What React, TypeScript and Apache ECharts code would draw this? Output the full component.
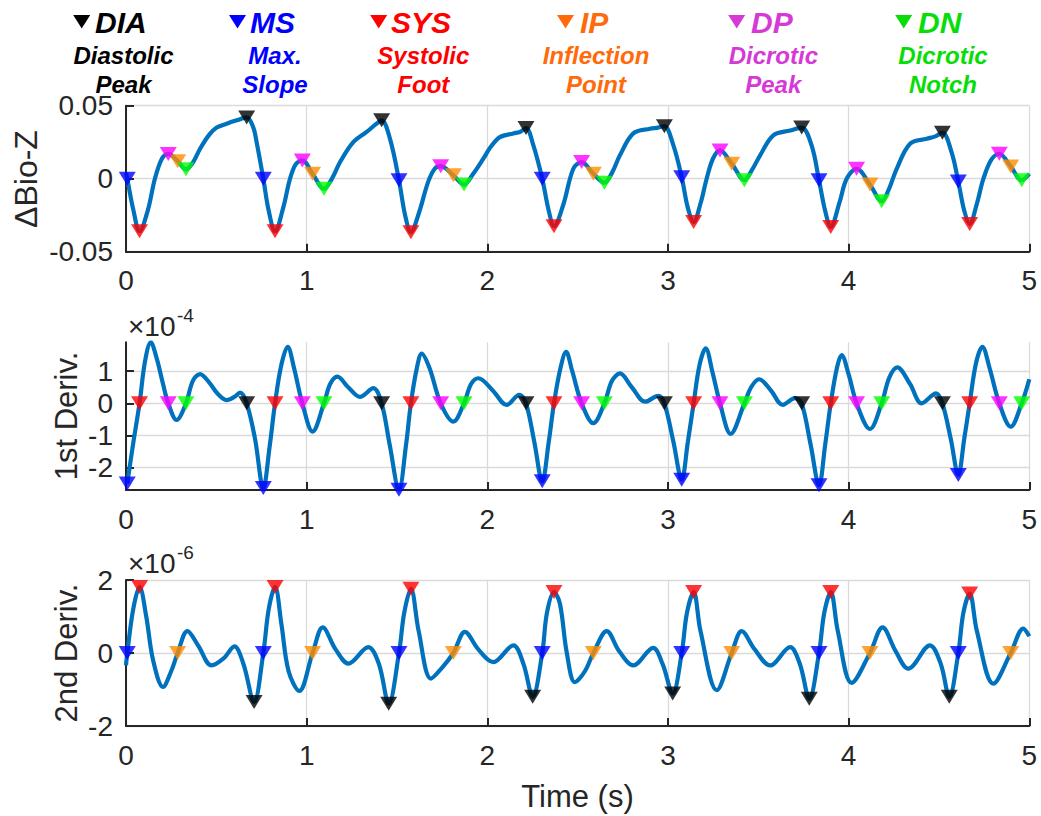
import { useEffect, useRef } from 'react';
import * as echarts from 'echarts';

const FONT = '"Liberation Sans", Arial, Helvetica, sans-serif';
const AX = '#262626';

// ---- event times (s) ----
const msT = [0.007, 0.76, 1.511, 2.304, 3.076, 3.836, 4.607];
const sysT = [0.075, 0.825, 1.577, 2.369, 3.142, 3.901, 4.67];
const ipT = [0.286, 1.033, 1.812, 2.587, 3.353, 4.118, 4.897];
const dpT = [0.234, 0.976, 1.742, 2.522, 3.288, 4.044, 4.834];
const dnT = [0.332, 1.096, 1.871, 2.648, 3.423, 4.183, 4.958];
const diaT = [0.668, 1.415, 2.214, 2.98, 3.74, 4.519];
const d2MinT = [0.709, 1.454, 2.251, 3.026, 3.782, 4.557];

// ---- ΔBio-Z marker values ----
const zMS = [0, 0, -0.001, 0, 0.001, -0.001, -0.002];
const zSYS = [-0.036, -0.036, -0.0366, -0.0325, -0.0297, -0.033, -0.031];
const zIP = [0.012, 0.0034, 0.0023, 0.0034, 0.0103, -0.004, 0.0084];
const zDP = [0.017, 0.0125, 0.0086, 0.0114, 0.0194, 0.0068, 0.0171];
const zDN = [0.0064, -0.0069, -0.004, -0.0027, -0.001, -0.0155, -0.001];
const zDIA = [0.042, 0.04, 0.0347, 0.036, 0.035, 0.0315];
// other points of the ΔBio-Z trace
const zCurve = [
  [0, 0.004], [0.04, -0.021], [0.12, -0.022], [0.16, 0.0], [0.2, 0.014], [0.37, 0.011], [0.41, 0.0205],
  [0.46, 0.03], [0.502, 0.035], [0.557, 0.0377], [0.613, 0.04], [0.705, 0.035], [0.723, 0.025],
  [0.79, -0.022], [0.87, -0.02], [0.908, 0], [0.94, 0.01], [1.14, 0.0], [1.185, 0.0114], [1.258, 0.025],
  [1.332, 0.032], [1.38, 0.037], [1.461, 0.0274], [1.545, -0.025], [1.62, -0.024], [1.673, -0.002],
  [1.71, 0.007], [1.92, 0.003], [1.978, 0.0137], [2.02, 0.022], [2.07, 0.0285], [2.144, 0.031],
  [2.18, 0.032], [2.255, 0.0228], [2.34, -0.022], [2.42, -0.018], [2.476, 0.0068], [2.69, 0.004],
  [2.734, 0.016], [2.808, 0.031], [2.9, 0.0342], [2.945, 0.035], [3.03, 0.0228], [3.11, -0.02],
  [3.18, -0.017], [3.214, 0], [3.25, 0.014], [3.465, 0.006], [3.51, 0.016], [3.583, 0.0297],
  [3.676, 0.033], [3.795, 0.0228], [3.87, -0.022], [3.95, -0.016], [3.989, 0], [4.22, -0.008],
  [4.266, 0.0068], [4.34, 0.024], [4.432, 0.0274], [4.48, 0.029], [4.57, 0.018], [4.64, -0.022],
  [4.71, -0.017], [4.746, 0], [4.79, 0.013], [5, 0.0034],
];

// ---- 1st derivative (×1e-4) ----
const d1MS = [-2.5, -2.64, -2.69, -2.43, -2.38, -2.55, -2.23];
const d1SYS = [0, 0, 0, 0, 0, 0, 0];
const d1DP = [0, 0, 0, 0, 0, 0, 0];
const d1DN = [0, 0, 0, 0, 0, 0, 0];
const d1DIA = [0, 0, 0, 0, 0, 0];
const d1Curve = [
  [0.04, -1.24], [0.105, 1.3], [0.137, 1.9], [0.17, 1.4], [0.205, 0.6], [0.28, -0.52], [0.37, 0.7],
  [0.41, 0.91], [0.46, 0.65], [0.51, 0.28], [0.557, 0.1], [0.6, 0.2], [0.631, 0.33], [0.714, -1.1],
  [0.795, -1.35], [0.86, 1.2], [0.895, 1.76], [0.93, 1.1], [1.033, -0.88], [1.13, 0.6], [1.17, 0.83],
  [1.23, 0.5], [1.295, 0.2], [1.369, 0.47], [1.46, -1.3], [1.55, -1.3], [1.61, 1.1], [1.637, 1.55],
  [1.68, 1.1], [1.812, -0.57], [1.91, 0.6], [1.95, 0.78], [2.03, 0.4], [2.107, -0.05], [2.177, 0.26],
  [2.26, -1.2], [2.34, -1.2], [2.405, 1.1], [2.436, 1.6], [2.47, 1.0], [2.587, -0.62], [2.69, 0.7],
  [2.734, 0.93], [2.8, 0.5], [2.873, 0.05], [2.946, 0.23], [3.03, -1.2], [3.11, -1.2], [3.175, 1.2],
  [3.209, 1.71], [3.245, 1.0], [3.347, -0.95], [3.46, 0.5], [3.504, 0.75], [3.57, 0.4], [3.635, -0.05],
  [3.703, 0.16], [3.79, -1.3], [3.87, -1.3], [3.935, 1.1], [3.961, 1.5], [4.0, 0.9], [4.118, -0.8],
  [4.225, 0.8], [4.269, 1.12], [4.34, 0.6], [4.404, 0.0], [4.484, 0.31], [4.565, -1.1], [4.64, -1.1],
  [4.705, 1.25], [4.74, 1.76], [4.78, 1.1], [4.897, -0.73], [5, 0.75],
];

// ---- 2nd derivative (×1e-6) ----
const d2MS = [0, 0, 0, 0, 0, 0, 0];
const d2SYS = [1.81, 1.81, 1.76, 1.67, 1.67, 1.67, 1.63];
const d2IP = [0, 0, 0, 0, 0, 0, 0];
const d2Min = [-1.34, -1.39, -1.2, -1.11, -1.25, -1.2];
const d2Curve = [
  [0, -0.34], [0.04, 1.2], [0.112, 1.0], [0.15, -0.2], [0.205, -0.93], [0.25, -0.5], [0.34, 0.6],
  [0.4, 0.2], [0.474, -0.34], [0.54, -0.15], [0.6, 0.18], [0.65, -0.3], [0.79, 1.2], [0.86, 0.8],
  [0.9, -0.5], [0.959, -1.04], [1.089, 0.7], [1.16, 0.1], [1.231, -0.29], [1.341, 0.16], [1.4, -0.3],
  [1.54, 1.1], [1.62, 0.6], [1.688, -0.7], [1.75, -0.4], [1.876, 0.58], [1.95, 0.1], [2.033, -0.25],
  [2.144, 0.21], [2.2, -0.3], [2.33, 1.1], [2.402, 1.35], [2.44, 0.0], [2.485, -0.8], [2.54, -0.5],
  [2.661, 0.6], [2.73, 0.05], [2.808, -0.34], [2.918, 0.14], [2.97, -0.3], [3.105, 1.1], [3.18, 0.6],
  [3.27, -1.02], [3.408, 0.6], [3.48, 0.1], [3.565, -0.34], [3.676, 0.16], [3.73, -0.3], [3.865, 1.1],
  [3.94, 0.6], [4.017, -0.82], [4.188, 0.7], [4.26, 0.05], [4.33, -0.43], [4.45, 0.21], [4.51, -0.3],
  [4.635, 1.1], [4.71, 0.6], [4.801, -0.84], [4.967, 0.67], [5, 0.46],
];

const xTicks = [0, 1, 2, 3, 4, 5];
const zTicks = [-0.05, 0, 0.05];
const d1Ticks = [-2, -1, 0, 1];
const d2Ticks = [-2, 0, 2];

const C = {
  DIA: '#000000', MS: '#0000FF', SYS: '#FF0000', IP: '#FF8C00', DP: '#FF00FF', DN: '#00FF00',
};
const LEG = {
  DIA: '#000000', MS: '#0000FF', SYS: '#FF0000', IP: '#FF6A0A', DP: '#D63AD6', DN: '#08DD08',
};

const zip = (t: number[], v: number[]) => t.map((x, i) => [x, v[i]]);
const merge = (...a: number[][][]) => a.flat().slice().sort((p, q) => p[0] - q[0]);

function buildOption() {
  const grids = [
    { left: 126, right: 11.7, top: 105.7, height: 146 },
    { left: 126, right: 11.7, top: 342.3, height: 147.7 },
    { left: 126, right: 11.7, top: 580, height: 146 },
  ];
  const xAxis = grids.map((_, gi) => ({
    type: 'value', gridIndex: gi, min: xTicks[0], max: xTicks[xTicks.length - 1], interval: 1,
    axisLine: { show: true, onZero: false, lineStyle: { color: AX, width: 2 } },
    axisTick: { show: true, inside: true, length: 8, lineStyle: { color: AX, width: 2 } },
    axisLabel: { color: AX, fontSize: 28, fontFamily: FONT, margin: 15 },
    splitLine: { show: true, lineStyle: { color: '#dadada', width: 1.3 } },
  }));
  const yBase = {
    type: 'value',
    axisLine: { show: true, onZero: false, lineStyle: { color: AX, width: 2 } },
    axisLabel: { color: AX, fontSize: 28, fontFamily: FONT, margin: 13 },
    splitLine: { show: true, lineStyle: { color: '#dadada', width: 1.3 } },
  };
  const tick = { show: true, inside: true, length: 8, lineStyle: { color: AX, width: 2 } };
  const yAxis = [
    {
      ...yBase, gridIndex: 0, min: zTicks[0], max: zTicks[2], interval: 0.05, axisTick: tick,
      axisLabel: { ...yBase.axisLabel, formatter: (v: number) => (v === 0 ? '0' : String(v)) },
    },
    {
      ...yBase, gridIndex: 1, min: -2.7, max: 1.9,
      axisTick: { ...tick, customValues: d1Ticks },
      axisLabel: { ...yBase.axisLabel, customValues: d1Ticks },
    },
    { ...yBase, gridIndex: 2, min: d2Ticks[0], max: d2Ticks[2], interval: 2, axisTick: tick },
  ];

  const line = (gi: number, data: number[][]) => ({
    type: 'line', xAxisIndex: gi, yAxisIndex: gi, data, showSymbol: false, smooth: 0.35,
    lineStyle: { color: '#0072BD', width: 4.2 }, z: 3, silent: true,
  });
  const mk = (gi: number, data: number[][], color: string) => ({
    type: 'scatter', xAxisIndex: gi, yAxisIndex: gi, data, symbol: 'triangle', symbolRotate: 180,
    symbolSize: [17, 14], itemStyle: { color }, z: 5, clip: false, silent: true,
  });

  const zM = {
    MS: zip(msT, zMS), SYS: zip(sysT, zSYS), IP: zip(ipT, zIP), DP: zip(dpT, zDP), DN: zip(dnT, zDN), DIA: zip(diaT, zDIA),
  };
  const d1M = {
    MS: zip(msT, d1MS), SYS: zip(sysT, d1SYS), DP: zip(dpT, d1DP), DN: zip(dnT, d1DN), DIA: zip(diaT, d1DIA),
  };
  const d2M = { MS: zip(msT, d2MS), SYS: zip(sysT, d2SYS), IP: zip(ipT, d2IP), DIA: zip(d2MinT, d2Min) };

  const series = [
    line(0, merge(zCurve, zM.MS, zM.SYS, zM.IP, zM.DP, zM.DN, zM.DIA)),
    mk(0, zM.DIA, C.DIA), mk(0, zM.MS, C.MS), mk(0, zM.SYS, C.SYS), mk(0, zM.IP, C.IP), mk(0, zM.DP, C.DP), mk(0, zM.DN, C.DN),
    line(1, merge(d1Curve, d1M.MS, d1M.SYS, d1M.DP, d1M.DN, d1M.DIA)),
    mk(1, d1M.DIA, C.DIA), mk(1, d1M.MS, C.MS), mk(1, d1M.SYS, C.SYS), mk(1, d1M.DP, C.DP), mk(1, d1M.DN, C.DN),
    line(2, merge(d2Curve, d2M.MS, d2M.SYS, d2M.IP, d2M.DIA)),
    mk(2, d2M.DIA, C.DIA), mk(2, d2M.MS, C.MS), mk(2, d2M.SYS, C.SYS), mk(2, d2M.IP, C.IP),
  ];

  const legendItems = [
    { key: 'DIA', tri: 81.7, tx: 95, sub: ['Diastolic', 'Peak'], cx: 123.5 },
    { key: 'MS', tri: 237.5, tx: 250, sub: ['Max.', 'Slope'], cx: 275 },
    { key: 'SYS', tri: 378.7, tx: 391, sub: ['Systolic', 'Foot'], cx: 423.3 },
    { key: 'IP', tri: 565.5, tx: 580, sub: ['Inflection', 'Point'], cx: 596 },
    { key: 'DP', tri: 736.7, tx: 751, sub: ['Dicrotic', 'Peak'], cx: 773.3 },
    { key: 'DN', tri: 903.7, tx: 918, sub: ['Dicrotic', 'Notch'], cx: 943 },
  ];
  const graphic: any[] = [];
  legendItems.forEach((it) => {
    const col = (LEG as any)[it.key];
    graphic.push({
      type: 'polygon', shape: { points: [[it.tri - 8.5, 15], [it.tri + 8.5, 15], [it.tri, 28.5]] },
      style: { fill: col }, silent: true,
    });
    graphic.push({
      type: 'text', x: it.tx, y: 22, silent: true,
      style: { text: it.key, font: `italic bold 30px ${FONT}`, fill: col, align: 'left', verticalAlign: 'middle' },
    });
    graphic.push({
      type: 'text', x: it.cx, y: 55.5, silent: true,
      style: { text: it.sub[0], font: `italic bold 24px ${FONT}`, fill: col, align: 'center', verticalAlign: 'middle' },
    });
    graphic.push({
      type: 'text', x: it.cx, y: 84, silent: true,
      style: { text: it.sub[1], font: `italic bold 24px ${FONT}`, fill: col, align: 'center', verticalAlign: 'middle' },
    });
  });
  const yTitle = (text: string, x: number, y: number, size: number) => ({
    type: 'text', x, y, rotation: Math.PI / 2, silent: true,
    style: { text, font: `${size}px ${FONT}`, fill: AX, align: 'center', verticalAlign: 'middle' },
  });
  graphic.push(yTitle('ΔBio-Z', 26, 179, 32));
  graphic.push(yTitle('1st Deriv.', 66, 416, 31));
  graphic.push(yTitle('2nd Deriv.', 66, 653, 31));
  graphic.push({
    type: 'text', x: 577.5, y: 796, silent: true,
    style: { text: 'Time (s)', font: `31px ${FONT}`, fill: AX, align: 'center', verticalAlign: 'middle' },
  });
  const expo = (y: number, sup: string) => [
    { type: 'text', x: 128, y, silent: true, style: { text: '×10', font: `28px ${FONT}`, fill: AX, align: 'left', verticalAlign: 'middle' } },
    { type: 'text', x: 177, y: y - 11, silent: true, style: { text: sup, font: `19px ${FONT}`, fill: AX, align: 'left', verticalAlign: 'middle' } },
  ];
  graphic.push(...expo(326, '-4'), ...expo(563, '-6'));

  return { animation: false, backgroundColor: '#ffffff', grid: grids, xAxis, yAxis, series, graphic };
}

export default function App() {
  const ref = useRef<HTMLDivElement>(null);
  useEffect(() => {
    document.body.style.margin = '0';
    const chart = echarts.init(ref.current as HTMLDivElement, null, { renderer: 'svg' });
    chart.setOption(buildOption() as any);
    return () => chart.dispose();
  }, []);
  return <div ref={ref} style={{ width: 1041, height: 816 }} />;
}
